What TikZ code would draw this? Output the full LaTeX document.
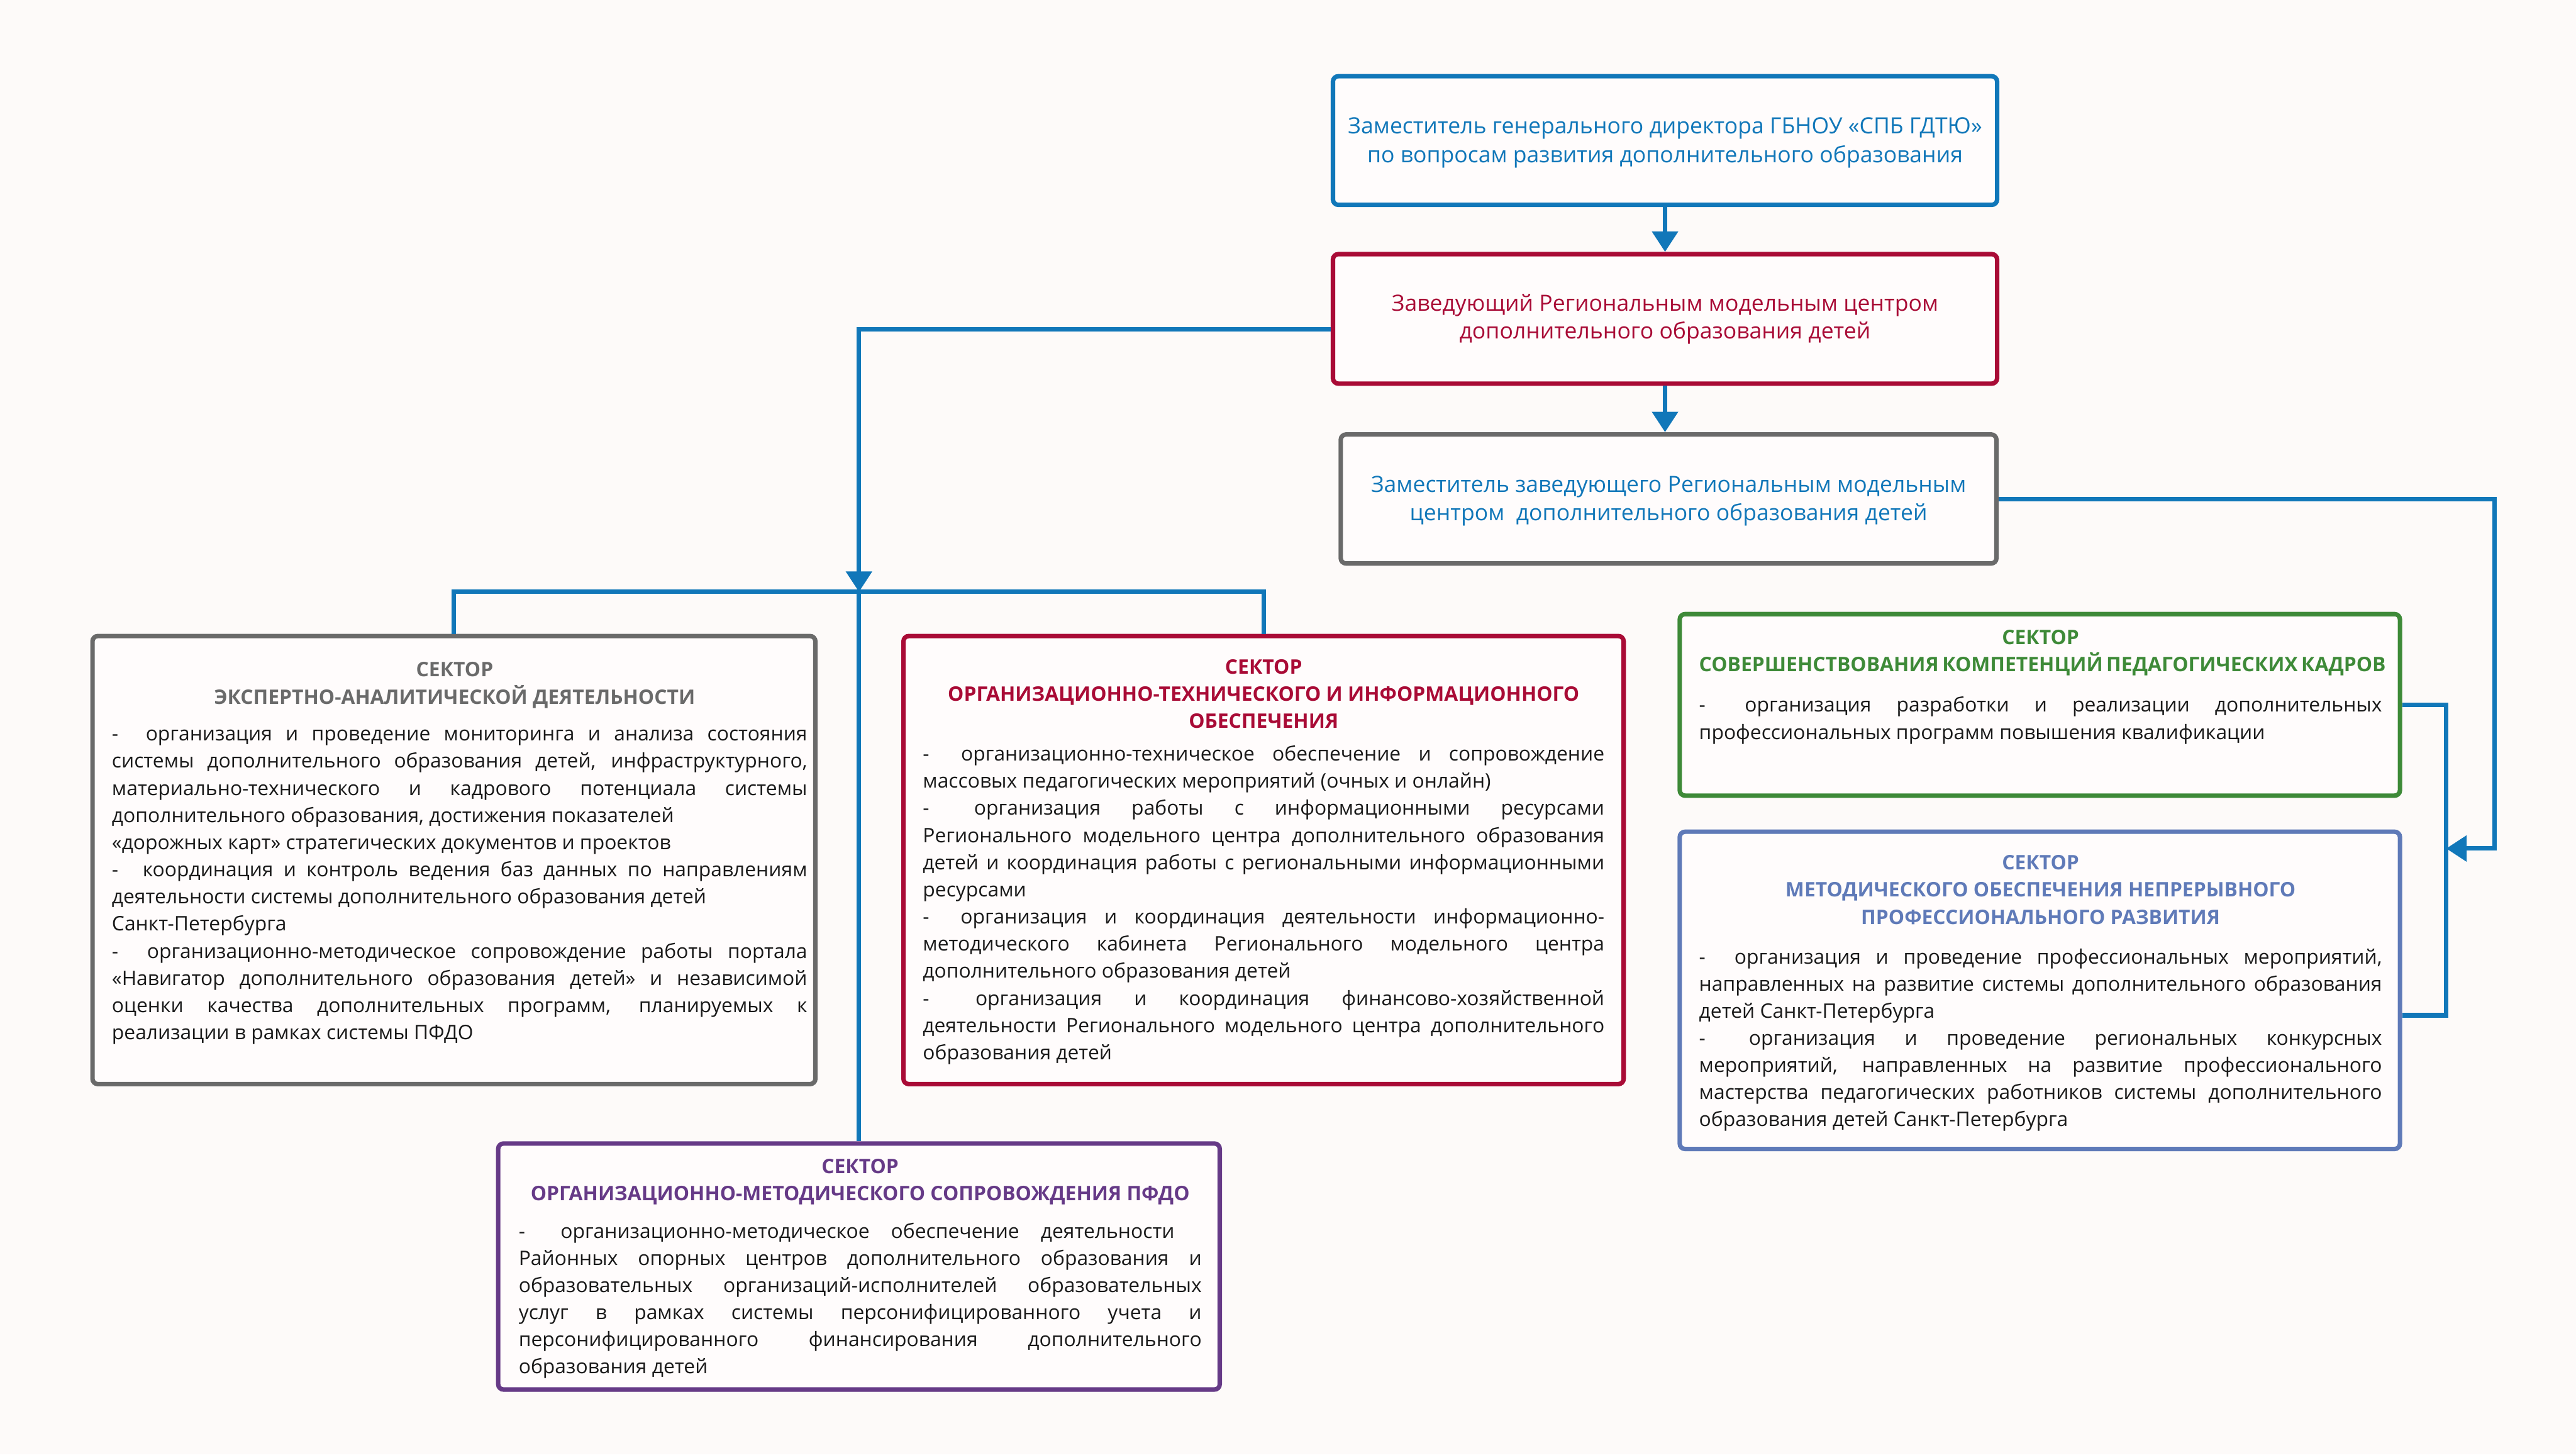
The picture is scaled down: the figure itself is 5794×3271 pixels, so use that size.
\documentclass[tikz,border=0pt]{standalone}
\usepackage{fontspec}
\setmainfont{Open Sans}
\usetikzlibrary{arrows.meta}
\definecolor{bgc}{HTML}{FDFAF9}
\definecolor{boxbg}{HTML}{FFFCFC}
\definecolor{cblue}{HTML}{1177B9}
\definecolor{cred}{HTML}{A90B36}
\definecolor{cgray}{HTML}{6A6A6A}
\definecolor{cgreen}{HTML}{3E8A38}
\definecolor{cpurple}{HTML}{663A87}
\definecolor{cslate}{HTML}{5F7AB8}
\definecolor{bodyc}{HTML}{1A1A1A}
\newcommand\JLine[1]{\hbox to\hsize{#1}}
\newcommand\NLine[1]{\hbox{#1}}
\newcommand\CLine[1]{\hbox to\hsize{\hfil#1\hfil}}
\newcommand\TLine[2]{\hbox to\hsize{\hfil\color{#1}\bfseries#2\hfil}}
\newcommand\TLineL[2]{\hbox to\hsize{\hfil\color{#1}\bfseries#2\hfil\hskip0.22cm}}
\newcommand\Dsh{-\hspace{0.7em} }
\newcommand\bodyfont{\fontsize{12.8}{17}\selectfont}
\newcommand\topfont{\fontsize{14.3}{18}\selectfont}
\newcommand\VSet{\baselineskip=0.61cm \lineskiplimit=-\maxdimen}
\tikzset{
  sbox/.style={draw=#1, fill=boxbg, line width=0.1cm, rounded corners=0.12cm, inner sep=0pt},
  conn/.style={draw=cblue, line width=0.1cm},
  tip/.style={-{Triangle[length=0.46cm,width=0.57cm]}},
  txt/.style={inner sep=0pt, font=\bodyfont, text=bodyc}
}
\begin{document}
\begin{tikzpicture}[x=0.01cm,y=-0.01cm]
\fill[bgc] (0,0) rectangle (5794,3271);
\useasboundingbox (0,0) rectangle (5794,3271);

% boxes
\node[sbox=cblue, minimum width=14.93cm, minimum height=2.89cm] (A) at (3745,316) {};
\node[sbox=cred, minimum width=14.93cm, minimum height=2.91cm] (B) at (3745,717) {};
\node[sbox=cgray, minimum width=14.74cm, minimum height=2.90cm] (C) at (3753,1122) {};
\node[sbox=cgray, minimum width=16.25cm, minimum height=10.07cm] (D) at (1021,1934) {};
\node[sbox=cred, minimum width=16.19cm, minimum height=10.07cm] (E) at (2842,1934) {};
\node[sbox=cpurple, minimum width=16.22cm, minimum height=5.53cm] (F) at (1932,2848) {};
\node[sbox=cgreen, minimum width=16.19cm, minimum height=4.08cm] (G) at (4588,1585) {};
\node[sbox=cslate, minimum width=16.19cm, minimum height=7.13cm] (H) at (4588,2227) {};

% top texts
\node[txt, font=\topfont, text=cblue, anchor=base] (At) at (3745,301) {\vtop{\hsize=14.6cm \baselineskip=0.64cm \lineskiplimit=-\maxdimen
\CLine{Заместитель генерального директора ГБНОУ «СПБ ГДТЮ»}
\CLine{по вопросам развития дополнительного образования}}};
\node[txt, font=\topfont, text=cred, anchor=base] (Bt) at (3745,699) {\vtop{\hsize=14.6cm \baselineskip=0.63cm \lineskiplimit=-\maxdimen
\CLine{Заведующий Региональным модельным центром}
\CLine{дополнительного образования детей}}};
\node[txt, font=\topfont, text=cblue, anchor=base] (Ct) at (3753,1107) {\vtop{\hsize=14.4cm \baselineskip=0.63cm \lineskiplimit=-\maxdimen
\CLine{Заместитель заведующего Региональным модельным}
\CLine{центром\ \ дополнительного образования детей}}};

% sector D
\node[txt, anchor=base west] (Dt) at (251,1522) {\vtop{\hsize=15.63cm \VSet
\TLineL{cgray}{СЕКТОР}
\TLineL{cgray}{ЭКСПЕРТНО-АНАЛИТИЧЕСКОЙ ДЕЯТЕЛЬНОСТИ}
\vskip0.22cm
\JLine{\Dsh организация и проведение мониторинга и анализа состояния}
\JLine{системы дополнительного образования детей, инфраструктурного,}
\JLine{материально-технического и кадрового потенциала системы}
\NLine{дополнительного образования, достижения показателей}
\NLine{«дорожных карт» стратегических документов и проектов}
\JLine{\Dsh координация и контроль ведения баз данных по направлениям}
\NLine{деятельности системы дополнительного образования детей}
\NLine{Санкт-Петербурга}
\JLine{\Dsh организационно-методическое сопровождение работы портала}
\JLine{«Навигатор дополнительного образования детей» и независимой}
\JLine{оценки качества дополнительных программ, планируемых к}
\NLine{реализации в рамках системы ПФДО}}};

% sector E
\node[txt, anchor=base west] (Et) at (2075,1515) {\vtop{\hsize=15.32cm \VSet
\TLine{cred}{СЕКТОР}
\TLine{cred}{ОРГАНИЗАЦИОННО-ТЕХНИЧЕСКОГО И ИНФОРМАЦИОННОГО}
\TLine{cred}{ОБЕСПЕЧЕНИЯ}
\vskip0.13cm
\JLine{\Dsh организационно-техническое обеспечение и сопровождение}
\NLine{массовых педагогических мероприятий (очных и онлайн)}
\JLine{\Dsh организация работы с информационными ресурсами}
\JLine{Регионального модельного центра дополнительного образования}
\JLine{детей и координация работы с региональными информационными}
\NLine{ресурсами}
\JLine{\Dsh организация и координация деятельности информационно-}
\JLine{методического кабинета Регионального модельного центра}
\NLine{дополнительного образования детей}
\JLine{\Dsh организация и координация финансово-хозяйственной}
\JLine{деятельности Регионального модельного центра дополнительного}
\NLine{образования детей}}};

% sector F
\node[txt, anchor=base west] (Ft) at (1166,2639) {\vtop{\hsize=15.35cm \VSet
\TLine{cpurple}{СЕКТОР}
\TLine{cpurple}{ОРГАНИЗАЦИОННО-МЕТОДИЧЕСКОГО СОПРОВОЖДЕНИЯ ПФДО}
\vskip0.23cm
\hbox to 14.74cm{\Dsh организационно-методическое обеспечение деятельности}
\JLine{Районных опорных центров дополнительного образования и}
\JLine{образовательных организаций-исполнителей образовательных}
\JLine{услуг в рамках системы персонифицированного учета и}
\JLine{персонифицированного финансирования дополнительного}
\NLine{образования детей}}};

% sector G
\node[txt, anchor=base west] (Gt) at (3821,1449) {\vtop{\hsize=15.35cm \VSet
\TLine{cgreen}{СЕКТОР}
\TLine{cgreen}{СОВЕРШЕНСТВОВАНИЯ КОМПЕТЕНЦИЙ ПЕДАГОГИЧЕСКИХ КАДРОВ}
\vskip0.30cm
\JLine{\Dsh организация разработки и реализации дополнительных}
\NLine{профессиональных программ повышения квалификации}}};

% sector H
\node[txt, anchor=base west] (Ht) at (3821,1956) {\vtop{\hsize=15.35cm \VSet
\TLine{cslate}{СЕКТОР}
\TLine{cslate}{МЕТОДИЧЕСКОГО ОБЕСПЕЧЕНИЯ НЕПРЕРЫВНОГО}
\TLine{cslate}{ПРОФЕССИОНАЛЬНОГО РАЗВИТИЯ}
\vskip0.28cm
\JLine{\Dsh организация и проведение профессиональных мероприятий,}
\JLine{направленных на развитие системы дополнительного образования}
\NLine{детей Санкт-Петербурга}
\JLine{\Dsh организация и проведение региональных конкурсных}
\JLine{мероприятий, направленных на развитие профессионального}
\JLine{мастерства педагогических работников системы дополнительного}
\NLine{образования детей Санкт-Петербурга}}};

% connectors
\coordinate (J1) at (1932,741);
\coordinate (J2) at (1932,1331);
\coordinate (R1) at (5611,1908);
\coordinate (R2) at (5502,1908);
\coordinate (Hb) at (5502,2283);

\draw[conn,tip] (A.south) -- (B.north);
\draw[conn,tip] (B.south) -- (B.south |- C.north);
\draw[conn,tip] (B.west |- J1) -- (J1) -- (J2);
\draw[conn] (J2) -- (F.north);
\draw[conn] (D.north) |- (J2) -| (E.north);
\draw[conn] (G.east) -| (Hb) -- (H.east |- Hb);
\draw[conn,tip] (C.east) -| (R1) -- (R2);
\end{tikzpicture}
\end{document}
